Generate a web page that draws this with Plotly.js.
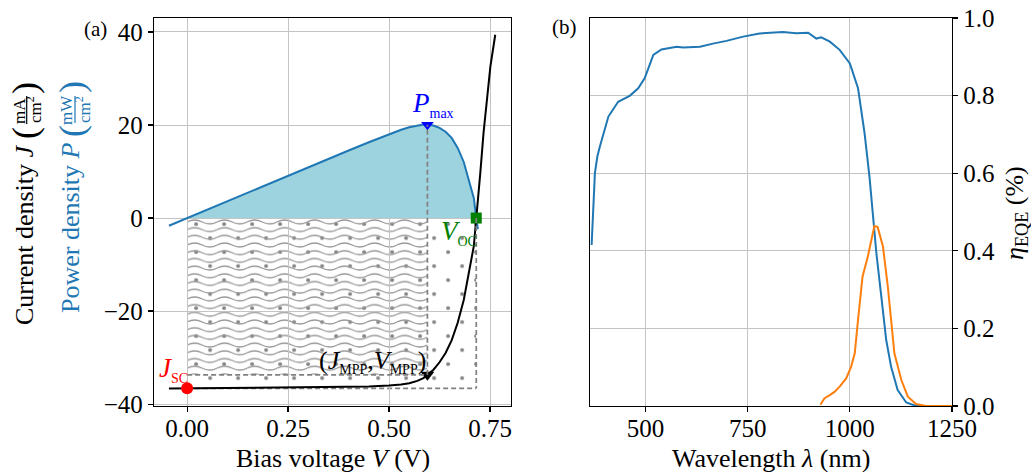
<!DOCTYPE html>
<html>
<head>
<meta charset="utf-8">
<script src="https://cdn.plot.ly/plotly-3.0.1.min.js"></script>
<style>
  html, body { margin: 0; padding: 0; background: #ffffff; }
  #chart { width: 1031px; height: 472px; }
</style>
</head>
<body>
<div id="chart"></div>
<script>
// ---- (a) current density / power density vs. bias voltage ----
const biasVoltage = [-0.045, 0, 0.1, 0.2, 0.3, 0.4, 0.45, 0.5, 0.53, 0.55, 0.57, 0.585, 0.595,
  0.61, 0.625, 0.64, 0.655, 0.67, 0.685, 0.7, 0.71, 0.716, 0.72, 0.726, 0.734, 0.743, 0.751, 0.763];
const currentDensity = [-36.65, -36.6, -36.55, -36.5, -36.4, -36.3, -36.2, -36.0, -35.8, -35.5, -35.0, -34.4, -33.7,
  -32.6, -31.0, -29.0, -26.3, -22.5, -17.6, -11.0, -6.0, 0.0, 3.3, 9.7, 18.3, 25.4, 32.6, 39.4];
const powerCurveEnd = 0.72;          // power density is plotted up to this bias
const jsc = -36.6;                   // short-circuit current density
const voc = 0.716;                   // open-circuit voltage
const vmpp = 0.595;                  // voltage at maximum power point
const jmpp = -33.7;                  // current density at maximum power point
const pmax = -vmpp * jmpp;

// ---- (b) external quantum efficiency spectra ----
const wavelengthBlue = [368, 372, 376, 382, 388, 409, 433, 462, 482, 498, 519, 539, 576, 592, 633, 665, 698,
  739, 779, 836, 869, 898, 918, 930, 951, 975, 1000, 1020, 1036, 1048, 1059, 1065, 1077, 1089, 1101,
  1117, 1138, 1162, 1200, 1250];
const eqeBlue = [0.415, 0.53, 0.60, 0.643, 0.668, 0.746, 0.784, 0.80, 0.819, 0.845, 0.905, 0.919, 0.926, 0.924,
  0.926, 0.934, 0.941, 0.952, 0.960, 0.964, 0.961, 0.962, 0.947, 0.950, 0.939, 0.918, 0.883, 0.819, 0.703,
  0.591, 0.462, 0.393, 0.282, 0.170, 0.101, 0.041, 0.009, 0.0, 0.0, 0.0];
const wavelengthOrange = [928, 938, 951, 963, 975, 991, 1003, 1012, 1020, 1031, 1044, 1056, 1060, 1068, 1081,
  1093, 1109, 1126, 1142, 1162, 1187, 1250];
const eqeOrange = [0.003, 0.02, 0.028, 0.037, 0.050, 0.071, 0.101, 0.136, 0.222, 0.333, 0.385, 0.445, 0.464,
  0.461, 0.411, 0.307, 0.136, 0.067, 0.024, 0.005, 0.0, 0.0];

// tick labels
const jvTicks = [-40, -20, 0, 20, 40];
const jvTickText = ['\u221240', '\u221220', '0', '20', '40'];
const vTicks = [0, 0.25, 0.5, 0.75];
const vTickText = ['0.00', '0.25', '0.50', '0.75'];
const wlTicks = [500, 750, 1000, 1250];
const eqeTicks = [0, 0.2, 0.4, 0.6, 0.8, 1.0];
const eqeTickText = ['0.0', '0.2', '0.4', '0.6', '0.8', '1.0'];

// ---- geometry (pixels) ----
const W = 1031, H = 472;
const A = { left: 154, right: 511, top: 18, bottom: 406 };
const B = { left: 590, right: 952, top: 18, bottom: 406 };
const xRangeA = [-0.082, 0.802];
const yRangeA = [-40.4, 43.0];
const xRangeB = [364, 1250];
const yRangeB = [0, 1];
const px = x => x / W;
const py = y => 1 - y / H;

const FONT = 'Liberation Serif, Times New Roman, serif';
const C_BLUE = '#1f77b4', C_ORANGE = '#ff7f0e';

// derived power density P = -V J
const pV = [], pP = [];
biasVoltage.forEach((v, i) => { if (v <= powerCurveEnd) { pV.push(v); pP.push(-v * currentDensity[i]); } });
const fillV = [], fillP = [];
biasVoltage.forEach((v, i) => { if (v >= 0 && v <= voc) { fillV.push(v); fillP.push(-v * currentDensity[i]); } });

// hatch textures sized to the rectangles they cover
function pxW(dv) { return dv / (xRangeA[1] - xRangeA[0]) * (A.right - A.left); }
function pxH(dj) { return dj / (yRangeA[1] - yRangeA[0]) * (A.bottom - A.top); }
function svgUri(body, w, h) {
  const s = `<svg xmlns="http://www.w3.org/2000/svg" width="${w}" height="${h}" viewBox="0 0 ${w} ${h}" preserveAspectRatio="none">${body}</svg>`;
  return 'data:image/svg+xml;charset=utf-8,' + encodeURIComponent(s);
}
function dotTexture(w, h) {
  return svgUri(`<defs><pattern id="d" width="28" height="28" patternUnits="userSpaceOnUse">
    <circle cx="9" cy="6" r="2" fill="#878787"/><circle cx="23" cy="20" r="2" fill="#878787"/>
    </pattern></defs><rect x="0" y="0" width="${w}" height="${h}" fill="url(#d)"/>`, w, h);
}
function waveTexture(w, h) {
  return svgUri(`<defs><pattern id="w" width="30" height="7.7" patternUnits="userSpaceOnUse">
    <path d="M0,3.85 Q7.5,0 15,3.85 T30,3.85" fill="none" stroke="#969696" stroke-width="1.3"/>
    </pattern></defs><rect x="0" y="0" width="${w}" height="${h}" fill="url(#w)"/>`, w, h);
}
const dotW = pxW(voc), dotH = pxH(-jsc);
const waveW = pxW(vmpp), waveH = pxH(-jmpp);

const traces = [
  { x: fillV, y: fillP, type: 'scatter', mode: 'lines', fill: 'tozeroy', fillcolor: '#9dd3df',
    line: { width: 0, color: 'rgba(0,0,0,0)' }, xaxis: 'x', yaxis: 'y', hoverinfo: 'skip' },
  { x: pV, y: pP, type: 'scatter', mode: 'lines', line: { color: C_BLUE, width: 2 }, xaxis: 'x', yaxis: 'y' },
  { x: biasVoltage, y: currentDensity, type: 'scatter', mode: 'lines', line: { color: '#000000', width: 2 },
    xaxis: 'x', yaxis: 'y' },
  { x: [0], y: [jsc], type: 'scatter', mode: 'markers', marker: { color: '#ff0000', size: 12, symbol: 'circle' } },
  { x: [vmpp], y: [pmax], type: 'scatter', mode: 'markers', marker: { color: '#0000ff', size: 11, symbol: 'triangle-down' } },
  { x: [vmpp], y: [jmpp], type: 'scatter', mode: 'markers', marker: { color: '#000000', size: 12, symbol: 'triangle-down' } },
  { x: [voc], y: [0], type: 'scatter', mode: 'markers', marker: { color: '#008000', size: 11, symbol: 'square' } },
  { x: wavelengthBlue, y: eqeBlue, type: 'scatter', mode: 'lines', line: { color: C_BLUE, width: 2 },
    xaxis: 'x2', yaxis: 'y2' },
  { x: wavelengthOrange, y: eqeOrange, type: 'scatter', mode: 'lines', line: { color: C_ORANGE, width: 2 },
    xaxis: 'x2', yaxis: 'y2' }
];

const axisCommon = {
  showline: true, mirror: true, linecolor: '#000000', linewidth: 1.2,
  ticks: 'outside', ticklen: 5, tickwidth: 1.2, tickcolor: '#000000',
  showgrid: true, gridcolor: '#c4c4c4', gridwidth: 1, zeroline: false,
  tickfont: { family: FONT, size: 25, color: '#000000' }
};

const dash = { color: '#808080', width: 1.7, dash: '5px,3px' };
const shapes = [
  { type: 'line', xref: 'x', yref: 'y', x0: vmpp, x1: vmpp, y0: jmpp, y1: pmax, line: dash, layer: 'above' },
  { type: 'line', xref: 'x', yref: 'y', x0: 0, x1: vmpp, y0: jmpp, y1: jmpp, line: dash, layer: 'above' },
  { type: 'line', xref: 'x', yref: 'y', x0: voc, x1: voc, y0: 0, y1: jsc, line: dash, layer: 'above' },
  { type: 'line', xref: 'x', yref: 'y', x0: 0, x1: voc, y0: jsc, y1: jsc, line: dash, layer: 'below' },
  // fraction bars of the stacked units in the y-axis label
  { type: 'line', xref: 'paper', yref: 'paper', x0: px(26.7), x1: px(26.7), y0: py(96), y1: py(124),
    line: { color: '#000000', width: 1.2 } },
  { type: 'line', xref: 'paper', yref: 'paper', x0: px(75), x1: px(75), y0: py(96), y1: py(123),
    line: { color: C_BLUE, width: 1.2 } }
];

const images = [
  { source: dotTexture(dotW, dotH), xref: 'x', yref: 'y', x: 0, y: 0, sizex: voc, sizey: -jsc,
    xanchor: 'left', yanchor: 'top', sizing: 'stretch', layer: 'below' },
  { source: waveTexture(waveW, waveH), xref: 'x', yref: 'y', x: 0, y: 0, sizex: vmpp, sizey: -jmpp,
    xanchor: 'left', yanchor: 'top', sizing: 'stretch', layer: 'below' }
];

function txt(text, x, y, size, color, angle, extra) {
  return Object.assign({ text: text, xref: 'paper', yref: 'paper', x: px(x), y: py(y),
    xanchor: 'center', yanchor: 'middle', showarrow: false, textangle: angle || 0,
    font: { family: FONT, size: size, color: color || '#000000' } }, extra || {});
}
const small = s => `<sub><span style="font-size:14px">${s}</span></sub>`;

const annotations = [
  txt('(a)', 95, 29, 21),
  txt('(b)', 564, 27, 21),
  txt('Bias voltage <i>V</i> (V)', (A.left + A.right) / 2, 458, 26),
  txt('Wavelength <i>λ</i> (nm)', (B.left + B.right) / 2, 458, 26),
  txt('<i>η</i><sub>EQE</sub> (%)', 1016, 213, 26, '#000000', -90),
  // left axis label: current density (black) and power density (blue)
  txt('Current density <i>J</i>', 24, 235, 26, '#000000', -90),
  txt('(', 25, 133, 36, '#000000', -90),
  txt('mA', 19, 111, 17, '#000000', -90),
  txt('cm<sup>2</sup>', 34, 110, 17, '#000000', -90),
  txt(')', 25, 88, 36, '#000000', -90),
  txt('Power density <i>P</i>', 70, 228, 26, C_BLUE, -90),
  txt('(', 72, 131, 36, C_BLUE, -90),
  txt('mW', 66, 110, 17, C_BLUE, -90),
  txt('cm<sup>2</sup>', 83, 110, 17, C_BLUE, -90),
  txt(')', 72, 87, 36, C_BLUE, -90),
  // point labels
  { text: '<i>P</i>' + small('max'), xref: 'x', yref: 'y', x: vmpp, y: pmax, showarrow: false,
    xanchor: 'center', yanchor: 'middle', xshift: 6, yshift: 20, font: { family: FONT, size: 27, color: '#0000ff' } },
  { text: '<i>V</i>' + small('OC'), xref: 'x', yref: 'y', x: voc, y: 0, showarrow: false,
    xanchor: 'center', yanchor: 'middle', xshift: -17, yshift: -14, font: { family: FONT, size: 27, color: '#008000' } },
  { text: '<i>J</i>' + small('SC'), xref: 'x', yref: 'y', x: 0, y: jsc, showarrow: false,
    xanchor: 'center', yanchor: 'middle', xshift: -14, yshift: 19, font: { family: FONT, size: 27, color: '#ff0000' } },
  { text: '(<i>J</i>' + small('MPP') + ',<i>V</i>' + small('MPP') + ')', xref: 'x', yref: 'y', x: vmpp, y: jmpp,
    showarrow: false, xanchor: 'center', yanchor: 'middle', xshift: -55, yshift: 13,
    font: { family: FONT, size: 26, color: '#000000' } }
];

const layout = {
  width: W, height: H,
  margin: { l: 0, r: 0, t: 0, b: 0, pad: 0 },
  paper_bgcolor: '#ffffff', plot_bgcolor: '#ffffff',
  showlegend: false,
  font: { family: FONT, size: 25, color: '#000000' },
  xaxis: Object.assign({}, axisCommon, { domain: [px(A.left), px(A.right)], range: xRangeA,
    tickvals: vTicks, ticktext: vTickText, anchor: 'y', ticklabelstandoff: -5 }),
  yaxis: Object.assign({}, axisCommon, { domain: [py(A.bottom), py(A.top)], range: yRangeA,
    tickvals: jvTicks, ticktext: jvTickText, anchor: 'x' }),
  xaxis2: Object.assign({}, axisCommon, { domain: [px(B.left), px(B.right)], range: xRangeB,
    tickvals: wlTicks, anchor: 'y2', ticklabelstandoff: -5 }),
  yaxis2: Object.assign({}, axisCommon, { domain: [py(B.bottom), py(B.top)], range: yRangeB,
    tickvals: eqeTicks, ticktext: eqeTickText, side: 'right', anchor: 'x2' }),
  shapes: shapes,
  images: images,
  annotations: annotations
};

Plotly.newPlot('chart', traces, layout, { staticPlot: true, displayModeBar: false });
</script>
</body>
</html>
